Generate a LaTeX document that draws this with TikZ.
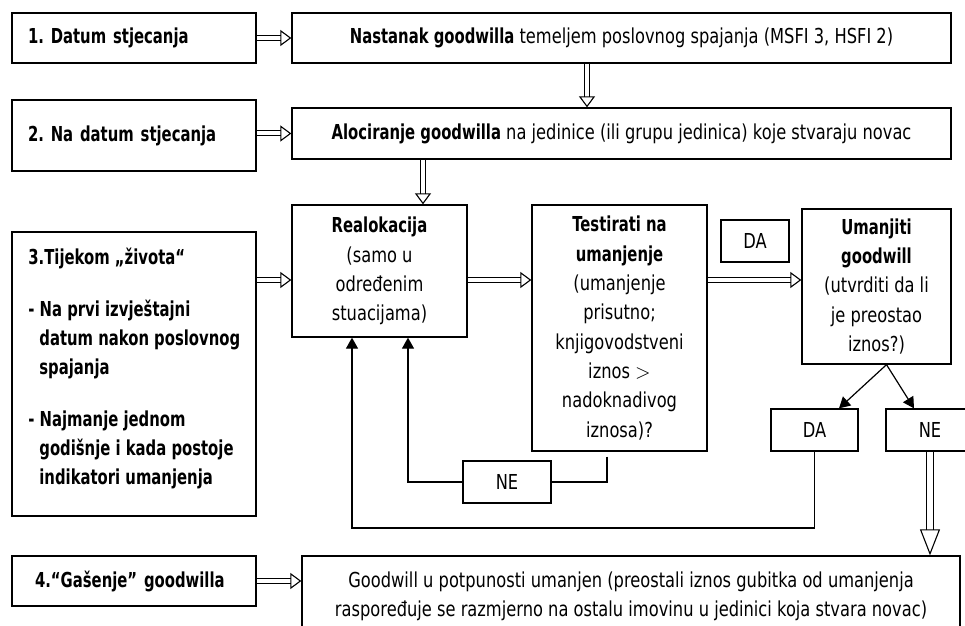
\documentclass[tikz,border=0pt]{standalone}
\usepackage{fontspec}
\setmainfont{DejaVu Sans}[UprightFeatures={FakeStretch=0.79}, BoldFeatures={FakeStretch=0.72}]
\usetikzlibrary{arrows.meta}
\frenchspacing

\newcommand\txt{\fontsize{10.3pt}{14.65pt}\selectfont}

\tikzset{
  box/.style={draw, line width=0.65pt, inner sep=2pt, align=center},
  lbox/.style={box, align=left, text width=106pt, inner xsep=8pt,
               minimum height=25pt, font=\txt\bfseries},
  tag/.style={box, minimum width=44pt, minimum height=21pt},
  % hollow arrow: head length, head width, shaft gap, shaft shortening
  hollowarrow/.style n args={4}{white, line width=0.5pt, shorten <=0.35pt,
    -{Triangle[open, color=black, length=#1, width=#2, line width=0.55pt]},
    preaction={draw=black, arrows=-, double=white, double distance=#3,
               line width=0.5pt, shorten >=#4, shorten <=0.35pt}},
  hollow/.style={hollowarrow={5.5pt}{8pt}{2pt}{5.2pt}},
  hollowlong/.style={hollowarrow={13pt}{10pt}{3pt}{12.7pt}},
  arr/.style={line width=0.6pt, -{Triangle[length=5.5pt,width=6pt]}},
  plain/.style={line width=0.6pt}
}

\begin{document}
\begin{tikzpicture}[x=0.5pt,y=-0.5pt,font=\txt]
  \useasboundingbox (0,0) rectangle (965,626);
  \clip (0,0) rectangle (965,626);

  % left column
  \node[lbox] (datum1) at (134,38) {1. Datum stjecanja};
  \node[lbox, minimum height=35.5pt] (datum2) at (134,135.5) {2. Na datum stjecanja};
  \node[box, minimum width=122pt, minimum height=142pt] (zivot) at (134,374) {};
  \node[anchor=north west, inner sep=0pt, align=left, font=\txt\bfseries]
    (zivottxt) at (28,248)
    {3.Tijekom „života“\\[11pt]
     - Na prvi izvještajni\\
     \hspace*{5.5pt}datum nakon poslovnog\\
     \hspace*{5.5pt}spajanja\\[11pt]
     - Najmanje jednom\\
     \hspace*{5.5pt}godišnje i kada postoje\\
     \hspace*{5.5pt}indikatori umanjenja};
  \node[lbox, inner xsep=11.5pt, text width=99pt] (gasenje) at (134,581) {4.“Gašenje” goodwilla};

  % right part
  \node[box, minimum width=329.5pt, minimum height=25pt] (nastanak) at (621.5,38)
    {\textbf{Nastanak goodwilla} temeljem poslovnog spajanja (MSFI 3, HSFI 2)};
  \node[box, minimum width=329.5pt, minimum height=25.5pt] (alokacija) at (621.5,133.5)
    {\textbf{Alociranje goodwilla} na jedinice (ili grupu jedinica) koje stvaraju novac};
  \node[box, minimum width=87.5pt, minimum height=66pt] (realok) at (379.5,271)
    {\textbf{Realokacija}\\(samo u\\određenim\\stuacijama)};
  \node[box, minimum width=87.5pt, minimum height=123pt] (test) at (619.5,328)
    {\textbf{Testirati na}\\\textbf{umanjenje}\\(umanjenje\\prisutno;\\knjigovodstveni\\iznos $>$\\nadoknadivog\\iznosa)?};
  \node[box, minimum width=74.5pt, minimum height=77.5pt] (umanjiti) at (876.5,286.5)
    {\textbf{Umanjiti}\\\textbf{goodwill}\\(utvrditi da li\\je preostao\\iznos?)};
  \node[tag, minimum width=34pt] (da1) at (755,241) {DA};
  \node[tag, minimum width=43.5pt] (da2) at (814.5,430) {DA};
  \node[tag] (ne2) at (930,430) {NE};
  \node[tag] (ne1) at (507,482) {NE};
  \node[box, minimum width=329pt, minimum height=40pt] (potpuno) at (631,596)
    {Goodwill u potpunosti umanjen (preostali iznos gubitka od umanjenja\\
     raspoređuje se razmjerno na ostalu imovinu u jedinici koja stvara novac)};

  \coordinate (lev) at (0,280);
  \coordinate (loop) at (0,528);

  % hollow arrows
  \draw[hollow] (datum1) -- (nastanak);
  \draw[hollow] (datum2.east |- alokacija) -- (alokacija.west);
  \draw[hollow] ([xshift=-17.25pt]nastanak.south) -- ([xshift=-17.25pt]alokacija.north);
  \draw[hollow] ([xshift=21.75pt]realok.north |- alokacija.south) -- ([xshift=21.75pt]realok.north);
  \draw[hollow] (zivot.east |- lev) -- (realok.west |- lev);
  \draw[hollow] (realok.east |- lev) -- (test.west |- lev);
  \draw[hollow] (test.east |- lev) -- (umanjiti.west |- lev);
  \draw[hollowlong] (ne2.south) -- (ne2.south |- potpuno.north);
  \draw[hollow] (gasenje) -- (potpuno.west |- gasenje);

  % thin connectors
  \draw[arr] ([xshift=5pt]umanjiti.south) -- ([xshift=12.25pt]da2.north);
  \draw[arr] ([xshift=5pt]umanjiti.south) -- ([xshift=-8pt]ne2.north);
  \draw[arr] (da2.south) -- (da2.south |- loop) -| ([xshift=-13.75pt]realok.south);
  \draw[plain, shorten <=2.5pt] ([xshift=-6.25pt]test.south) |- (ne1.east);
  \draw[arr] (ne1.west) -| ([xshift=14.25pt]realok.south);
\end{tikzpicture}
\end{document}
